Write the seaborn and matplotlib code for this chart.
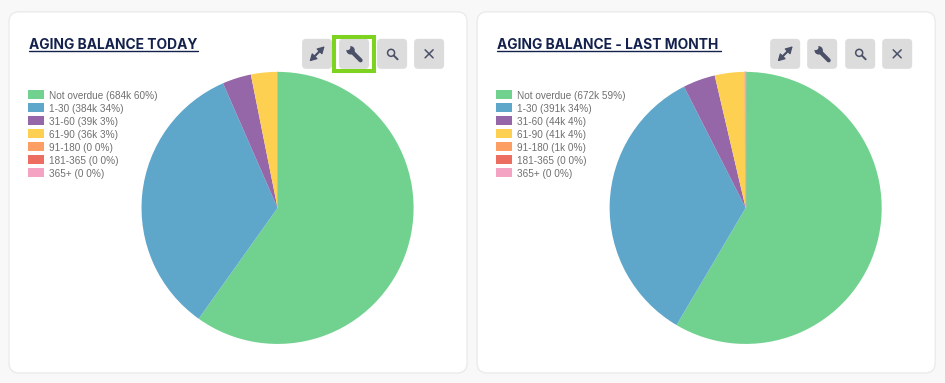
import matplotlib
matplotlib.use("Agg")
import matplotlib.pyplot as plt
import seaborn as sns
from matplotlib.patches import FancyBboxPatch, Rectangle, Circle

categories = ["Not overdue", "1-30", "31-60", "61-90", "91-180", "181-365", "365+"]
today_values = [684, 384, 39, 36, 0, 0, 0]
today_labels = ["684k 60%", "384k 34%", "39k 3%", "36k 3%", "0 0%", "0 0%", "0 0%"]
last_month_values = [672, 391, 44, 41, 1, 0, 0]
last_month_labels = ["672k 59%", "391k 34%", "44k 4%", "41k 4%", "1k 0%", "0 0%", "0 0%"]
colors = ["#71d28f", "#5fa6cb", "#9567a8", "#fdd052", "#fd9e64", "#ec6e61", "#f4a3c3"]

W, H = 945, 383
sns.set_theme(style="white")
plt.rcParams["font.family"] = ["Liberation Sans", "DejaVu Sans"]
palette = sns.color_palette(colors)

fig = plt.figure(figsize=((W + 0.2) / 100, (H + 0.2) / 100), dpi=100, facecolor="#f8f8f8")

# pixel canvas for the cards and the buttons
bg = fig.add_axes([0, 0, 1, 1])
bg.set_xlim(0, W)
bg.set_ylim(H, 0)
bg.axis("off")

ICON = "#4a5068"
BUTTON = "#dcdcdc"


def draw_button(x, y=39, size=30):
    bg.add_patch(FancyBboxPatch((x + 4, y + 4), size - 8, size - 8,
                                boxstyle="round,pad=4,rounding_size=4",
                                fc=BUTTON, ec="none", zorder=3))
    return x + size / 2, y + size / 2


def draw_icons(x0):
    # expand
    cx, cy = draw_button(x0)
    bg.annotate("", xy=(cx + 7.5, cy - 7.5), xytext=(cx - 7.5, cy + 7.5), zorder=4,
                arrowprops=dict(arrowstyle="<|-|>,head_length=0.7,head_width=0.4", color=ICON, lw=0.9,
                                mutation_scale=6, shrinkA=0, shrinkB=0))
    bg.plot([cx - 5, cx + 5], [cy + 5, cy - 5], color=ICON, lw=1.5, zorder=4)
    # wrench
    cx, cy = draw_button(x0 + 37)
    bg.plot([cx - 2, cx + 6.5], [cy - 2, cy + 6.5], color=ICON, lw=3, solid_capstyle="round", zorder=4)
    bg.add_patch(Circle((cx - 3.5, cy - 3.5), 4.2, fc=ICON, ec="none", zorder=4))
    bg.add_patch(Circle((cx - 6.5, cy - 6.5), 2.8, fc=BUTTON, ec="none", zorder=5))
    # search
    cx, cy = draw_button(x0 + 75)
    bg.add_patch(Circle((cx - 1, cy - 1), 3.5, fc="none", ec=ICON, lw=1.1, zorder=4))
    bg.plot([cx + 1.8, cx + 5.5], [cy + 1.8, cy + 5.5], color=ICON, lw=1.4, zorder=4)
    # close
    cx, cy = draw_button(x0 + 112)
    bg.plot([cx - 4, cx + 4], [cy - 4, cy + 4], color=ICON, lw=1.1, zorder=4)
    bg.plot([cx - 4, cx + 4], [cy + 4, cy - 4], color=ICON, lw=1.1, zorder=4)


def draw_card(card_x, center_x, title, title_end, values, labels):
    bg.add_patch(FancyBboxPatch((card_x + 10, 22), 438, 341,
                                boxstyle="round,pad=10,rounding_size=10",
                                fc="white", ec="#ebebeb", lw=1, zorder=1))
    bg.text(card_x + 20, 44.5, title, family="Inter", weight="bold", fontsize=9.95,
            color="#14214d", va="center", ha="left", zorder=4)
    bg.plot([card_x + 20, title_end], [51.5, 51.5], color="#14214d", lw=1, zorder=4)

    # pie axes 340px wide, the default pie limits are +-1.25
    ax = fig.add_axes([(center_x - 170) / W, 1 - (208 + 170) / H, 340 / W, 340 / H])
    ax.patch.set_alpha(0)
    wedges, _ = ax.pie(values, colors=palette, startangle=90, counterclock=False,
                       radius=1, wedgeprops=dict(lw=0))
    ax.set_xlim(-1.25, 1.25)
    ax.set_ylim(-1.25, 1.25)
    # empty slices still show as a hairline at the top
    for w, v in zip(wedges, values):
        if v <= 1:
            w.set_edgecolor(colors[6])
            w.set_linewidth(0.6)

    legend_labels = [f"{c} ({t})" for c, t in zip(categories, labels)]
    leg = ax.legend(wedges, legend_labels, loc="upper left",
                    bbox_to_anchor=((card_x + 19) / W, 1 - 90.5 / H), bbox_transform=fig.transFigure,
                    frameon=False, fontsize=7.2, labelcolor="#707070", borderpad=0, borderaxespad=0,
                    handlelength=1.6, handleheight=1.0, handletextpad=0.5, labelspacing=0.3)
    for h in leg.legend_handles:
        h.set_linewidth(0)
    return ax


draw_card(9, 277.5, "AGING BALANCE TODAY", 198, today_values, today_labels)
draw_card(477, 745.5, "AGING BALANCE - LAST MONTH", 721, last_month_values, last_month_labels)

draw_icons(302)
draw_icons(770)

# highlight round the wrench of the first card
bg.add_patch(Rectangle((334, 37), 40, 34, fc="none", ec="#7ed321", lw=2.9, zorder=6))

fig.savefig("out.png", dpi=100, facecolor=fig.get_facecolor())
